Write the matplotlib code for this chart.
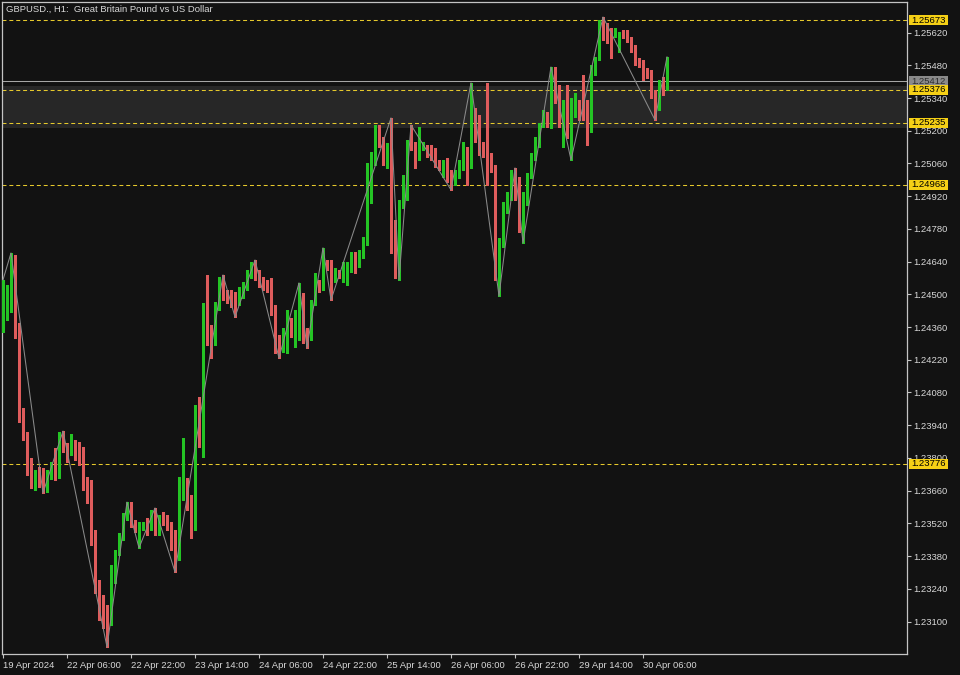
import matplotlib
matplotlib.use("Agg")
import matplotlib.pyplot as plt
from matplotlib.patches import Rectangle
from matplotlib.transforms import IdentityTransform
import numpy as np

plt.rcParams['font.family'] = ['Liberation Sans', 'DejaVu Sans']

# ---------------- data: GBPUSD H1, 19 Apr 2024 14:00 .. 30 Apr 2024 12:00 ----------------
chart_title = "GBPUSD., H1:  Great Britain Pound vs US Dollar"

opens = [
    1.24356, 1.24403, 1.24485, 1.24570, 1.24335, 1.23971, 1.23898, 1.23753, 1.23684, 1.23718,
    1.23706, 1.23663, 1.23718, 1.23757, 1.23718, 1.23885, 1.23843, 1.23821, 1.23864, 1.23843,
    1.23791, 1.23676, 1.23654, 1.23457, 1.23243, 1.23158, 1.23115, 1.23098, 1.23308, 1.23397,
    1.23457, 1.23547, 1.23599, 1.23526, 1.23479, 1.23509, 1.23522, 1.23500, 1.23547, 1.23483,
    1.23547, 1.23534, 1.23513, 1.23462, 1.23436, 1.23633, 1.23697, 1.23564, 1.23504, 1.23997,
    1.23911, 1.24382, 1.24330, 1.24313, 1.24446, 1.24540, 1.24510, 1.24502, 1.24489, 1.24476,
    1.24497, 1.24532, 1.24583, 1.24634, 1.24592, 1.24562, 1.24553, 1.24540, 1.24433, 1.24296,
    1.24262, 1.24271, 1.24382, 1.24352, 1.24403, 1.24420, 1.24335, 1.24313, 1.24463, 1.24553,
    1.24527, 1.24639, 1.24634, 1.24570, 1.24592, 1.24592, 1.24604, 1.24617, 1.24669, 1.24634,
    1.24669, 1.24720, 1.25002, 1.25062, 1.25216, 1.25139, 1.25075, 1.25127, 1.24784, 1.24724,
    1.24891, 1.24917, 1.25195, 1.25139, 1.25088, 1.25127, 1.25135, 1.25118, 1.25118, 1.25067,
    1.25045, 1.25062, 1.25011, 1.24977, 1.25002, 1.25045, 1.25109, 1.25045, 1.25268, 1.25174,
    1.25114, 1.25109, 1.25084, 1.25032, 1.24540, 1.24720, 1.24861, 1.24913, 1.25020, 1.24977,
    1.24776, 1.24895, 1.25002, 1.25088, 1.25148, 1.25225, 1.25259, 1.25225, 1.25426, 1.25362,
    1.25225, 1.25302, 1.25191, 1.25302, 1.25319, 1.25319, 1.25298, 1.25204, 1.25452, 1.25512,
    1.25640, 1.25632, 1.25632, 1.25610, 1.25546, 1.25619, 1.25610, 1.25597, 1.25546, 1.25495,
    1.25490, 1.25460, 1.25452, 1.25353, 1.25319, 1.25418, 1.25388,
]
highs = [
    1.24562, 1.24540, 1.24677, 1.24669, 1.24378, 1.24014, 1.23911, 1.23800, 1.23748, 1.23761,
    1.23757, 1.23748, 1.23783, 1.23843, 1.23911, 1.23915, 1.23864, 1.23902, 1.23877, 1.23868,
    1.23847, 1.23718, 1.23706, 1.23492, 1.23278, 1.23213, 1.23171, 1.23342, 1.23406, 1.23479,
    1.23564, 1.23611, 1.23611, 1.23534, 1.23526, 1.23526, 1.23543, 1.23577, 1.23586, 1.23556,
    1.23569, 1.23556, 1.23526, 1.23492, 1.23718, 1.23885, 1.23714, 1.23641, 1.24027, 1.24061,
    1.24463, 1.24583, 1.24369, 1.24467, 1.24574, 1.24583, 1.24519, 1.24519, 1.24510, 1.24532,
    1.24553, 1.24604, 1.24639, 1.24647, 1.24604, 1.24574, 1.24562, 1.24570, 1.24455, 1.24326,
    1.24356, 1.24433, 1.24399, 1.24433, 1.24549, 1.24506, 1.24356, 1.24476, 1.24592, 1.24562,
    1.24699, 1.24647, 1.24647, 1.24613, 1.24604, 1.24639, 1.24639, 1.24681, 1.24681, 1.24690,
    1.24746, 1.25062, 1.25109, 1.25225, 1.25225, 1.25174, 1.25148, 1.25255, 1.24818, 1.24904,
    1.25011, 1.25161, 1.25225, 1.25152, 1.25216, 1.25152, 1.25139, 1.25139, 1.25127, 1.25075,
    1.25075, 1.25084, 1.25032, 1.25032, 1.25075, 1.25152, 1.25131, 1.25405, 1.25298, 1.25268,
    1.25152, 1.25405, 1.25105, 1.25054, 1.24741, 1.24895, 1.24938, 1.25032, 1.25041, 1.25002,
    1.24938, 1.25020, 1.25105, 1.25174, 1.25234, 1.25289, 1.25281, 1.25473, 1.25473, 1.25396,
    1.25332, 1.25396, 1.25341, 1.25362, 1.25332, 1.25439, 1.25332, 1.25482, 1.25516, 1.25674,
    1.25687, 1.25662, 1.25640, 1.25640, 1.25623, 1.25632, 1.25632, 1.25602, 1.25567, 1.25512,
    1.25503, 1.25469, 1.25460, 1.25375, 1.25418, 1.25430, 1.25516,
]
lows = [
    1.24339, 1.24390, 1.24425, 1.24313, 1.23954, 1.23877, 1.23727, 1.23671, 1.23663, 1.23676,
    1.23650, 1.23654, 1.23710, 1.23706, 1.23714, 1.23825, 1.23783, 1.23813, 1.23791, 1.23770,
    1.23663, 1.23607, 1.23427, 1.23222, 1.23106, 1.23072, 1.22991, 1.23085, 1.23265, 1.23385,
    1.23449, 1.23534, 1.23504, 1.23483, 1.23415, 1.23492, 1.23470, 1.23492, 1.23470, 1.23470,
    1.23513, 1.23492, 1.23406, 1.23312, 1.23363, 1.23620, 1.23577, 1.23457, 1.23492, 1.23847,
    1.23804, 1.24283, 1.24228, 1.24283, 1.24433, 1.24476, 1.24463, 1.24446, 1.24403, 1.24455,
    1.24485, 1.24519, 1.24570, 1.24562, 1.24532, 1.24519, 1.24510, 1.24412, 1.24249, 1.24228,
    1.24253, 1.24249, 1.24318, 1.24275, 1.24305, 1.24292, 1.24271, 1.24305, 1.24455, 1.24510,
    1.24519, 1.24604, 1.24476, 1.24553, 1.24570, 1.24553, 1.24540, 1.24596, 1.24592, 1.24617,
    1.24656, 1.24711, 1.24891, 1.25054, 1.25131, 1.25054, 1.25041, 1.24677, 1.24570, 1.24562,
    1.24870, 1.24904, 1.25118, 1.25041, 1.25075, 1.25118, 1.25088, 1.25075, 1.25045, 1.25032,
    1.25002, 1.24981, 1.24947, 1.24968, 1.24998, 1.25032, 1.24968, 1.25041, 1.25152, 1.25097,
    1.25088, 1.24968, 1.25024, 1.24562, 1.24493, 1.24703, 1.24848, 1.24904, 1.24904, 1.24767,
    1.24720, 1.24883, 1.24998, 1.25075, 1.25131, 1.25216, 1.25216, 1.25212, 1.25319, 1.25216,
    1.25131, 1.25169, 1.25075, 1.25259, 1.25246, 1.25246, 1.25139, 1.25195, 1.25439, 1.25503,
    1.25589, 1.25576, 1.25512, 1.25602, 1.25537, 1.25597, 1.25580, 1.25537, 1.25482, 1.25473,
    1.25418, 1.25426, 1.25341, 1.25246, 1.25289, 1.25353, 1.25375,
]
closes = [
    1.24403, 1.24489, 1.24570, 1.24335, 1.23962, 1.23898, 1.23748, 1.23684, 1.23718, 1.23706,
    1.23663, 1.23718, 1.23748, 1.23718, 1.23885, 1.23834, 1.23821, 1.23864, 1.23821, 1.23783,
    1.23676, 1.23654, 1.23449, 1.23243, 1.23149, 1.23106, 1.23098, 1.23312, 1.23393, 1.23462,
    1.23547, 1.23590, 1.23526, 1.23500, 1.23500, 1.23513, 1.23479, 1.23543, 1.23479, 1.23534,
    1.23526, 1.23513, 1.23440, 1.23350, 1.23641, 1.23693, 1.23607, 1.23500, 1.24005, 1.23907,
    1.24382, 1.24326, 1.24305, 1.24446, 1.24540, 1.24506, 1.24489, 1.24476, 1.24455, 1.24506,
    1.24540, 1.24583, 1.24617, 1.24583, 1.24553, 1.24540, 1.24532, 1.24425, 1.24262, 1.24262,
    1.24275, 1.24382, 1.24348, 1.24416, 1.24420, 1.24318, 1.24313, 1.24463, 1.24549, 1.24527,
    1.24634, 1.24626, 1.24570, 1.24596, 1.24587, 1.24617, 1.24613, 1.24669, 1.24617, 1.24677,
    1.24720, 1.25002, 1.25062, 1.25216, 1.25139, 1.25075, 1.25127, 1.24776, 1.24724, 1.24895,
    1.24917, 1.25148, 1.25131, 1.25088, 1.25131, 1.25135, 1.25105, 1.25088, 1.25067, 1.25054,
    1.25062, 1.25011, 1.24981, 1.25011, 1.25054, 1.25109, 1.25045, 1.25268, 1.25169, 1.25109,
    1.25097, 1.25075, 1.25032, 1.24596, 1.24720, 1.24870, 1.24913, 1.25020, 1.24968, 1.24797,
    1.24895, 1.25011, 1.25097, 1.25152, 1.25225, 1.25259, 1.25238, 1.25418, 1.25362, 1.25225,
    1.25302, 1.25191, 1.25311, 1.25319, 1.25289, 1.25289, 1.25204, 1.25430, 1.25512, 1.25623,
    1.25619, 1.25619, 1.25610, 1.25623, 1.25619, 1.25602, 1.25589, 1.25546, 1.25490, 1.25482,
    1.25452, 1.25448, 1.25353, 1.25319, 1.25388, 1.25388, 1.25412,
]

# ZigZag indicator swing points (bar index, price)
zigzag_bars = [0, 2, 10, 15, 26, 31, 34, 38, 43, 55, 58, 63, 69, 74, 76, 80, 82,
               97, 99, 102, 112, 117, 124, 128, 130, 137, 142, 150, 163, 166]
zigzag_prices = [1.24562, 1.24677, 1.23650, 1.23915, 1.22991, 1.23611, 1.23415, 1.23586,
                 1.23312, 1.24583, 1.24403, 1.24647, 1.24228, 1.24549, 1.24271, 1.24699,
                 1.24476, 1.25255, 1.24562, 1.25225, 1.24947, 1.25405, 1.24493, 1.25041,
                 1.24720, 1.25473, 1.25075, 1.25687, 1.25246, 1.25516]

# time axis labels (bar index of each label)
date_tick_bars = [0, 16, 32, 48, 64, 80, 96, 112, 128, 144, 160]
date_tick_labels = ["19 Apr 2024", "22 Apr 06:00", "22 Apr 22:00", "23 Apr 14:00",
                    "24 Apr 06:00", "24 Apr 22:00", "25 Apr 14:00", "26 Apr 06:00",
                    "26 Apr 22:00", "29 Apr 14:00", "30 Apr 06:00"]

price_ticks = [1.25620, 1.25480, 1.25340, 1.25200, 1.25060, 1.24920, 1.24780, 1.24640,
               1.24500, 1.24360, 1.24220, 1.24080, 1.23940, 1.23800, 1.23660, 1.23520,
               1.23380, 1.23240, 1.23100]

# horizontal support / resistance levels
level_prices = [1.25673, 1.25376, 1.25235, 1.24968, 1.23776]
bid_price = 1.25412
zone_low, zone_high = 1.25212, 1.25392
price_min, price_max = 1.22961, 1.25751

# ---------------- style ----------------
BG = '#121212'
FRAME = '#c4c4c4'
TEXT = '#d8d8d8'
BULL = '#24c424'
BEAR = '#df5c5c'
ZIGZAG = '#8a8a8a'
LEVEL = '#e6c92c'
LABEL_BG = '#f5d016'
BID_LINE = '#a6a6a6'
BID_BG = '#8a8a8a'
ZONE = '#272727'
FS = 6.8

W, H, DPI = 960, 675, 100
fig = plt.figure(figsize=(W / DPI, H / DPI), dpi=DPI, facecolor=BG)
ax = fig.add_axes([2 / W, 21 / H, 905 / W, 652 / H], facecolor=BG)

n = len(opens)
x = np.arange(n)
o = np.array(opens); h = np.array(highs); l = np.array(lows); c = np.array(closes)
up = c >= o
cols = np.where(up, BULL, BEAR)

ax.set_xlim(-0.25, 226)
ax.set_ylim(price_min, price_max)

# rectangle zone and level lines
ax.axhspan(zone_low, zone_high, color=ZONE, lw=0, zorder=0.5)
for p in level_prices:
    ax.axhline(p, color=LEVEL, lw=0.75, dashes=(3.8, 2.8), zorder=1)
ax.axhline(bid_price, color=BID_LINE, lw=0.75, zorder=1)

# candles
ax.vlines(x, l, h, colors=cols, lw=0.75, antialiased=False, zorder=3)
body_bottom = np.minimum(o, c)
body_height = np.maximum(np.abs(c - o), 0.00003)
ax.bar(x, body_height, bottom=body_bottom, width=0.72, color=cols, lw=0,
       antialiased=False, zorder=3)

# zigzag
ax.plot(zigzag_bars, zigzag_prices, color=ZIGZAG, lw=0.75, zorder=4)

# frame
for s in ax.spines.values():
    s.set_color(FRAME)
    s.set_linewidth(0.9)

# price axis on the right
ax.yaxis.tick_right()
ax.set_yticks(price_ticks)
ax.set_yticklabels([f"{p:.5f}" for p in price_ticks])
ax.tick_params(axis='y', direction='out', length=3, width=0.8, color=FRAME,
               labelcolor=TEXT, labelsize=FS, pad=1.5)

# time axis
ax.set_xticks(date_tick_bars)
ax.set_xticklabels(date_tick_labels)
for t in ax.get_xticklabels():
    t.set_horizontalalignment('left')
ax.tick_params(axis='x', direction='out', length=3, width=0.8, color=FRAME,
               labelcolor=TEXT, labelsize=FS, pad=2)

fig.text(6 / W, 1 - 9.5 / H, chart_title, color=TEXT, fontsize=FS,
         ha='left', va='center')

# price labels on the scale
fig.canvas.draw()
x_right = ax.transAxes.transform((1, 0))[0]


def price_tag(price, face, txt_color, z):
    yd = ax.transData.transform((0, price))[1]
    fig.add_artist(Rectangle((x_right + 2, yd - 5), 39, 10, transform=IdentityTransform(),
                             facecolor=face, edgecolor='none', zorder=z))
    fig.text(x_right + 4.5, yd, f"{price:.5f}", transform=IdentityTransform(),
             color=txt_color, fontsize=FS, ha='left', va='center', zorder=z + 0.5)


price_tag(bid_price, BID_BG, '#2e2e2e', 20)
for p in level_prices:
    price_tag(p, LABEL_BG, '#000000', 22)

fig.savefig("out.png", dpi=DPI, facecolor=BG)
